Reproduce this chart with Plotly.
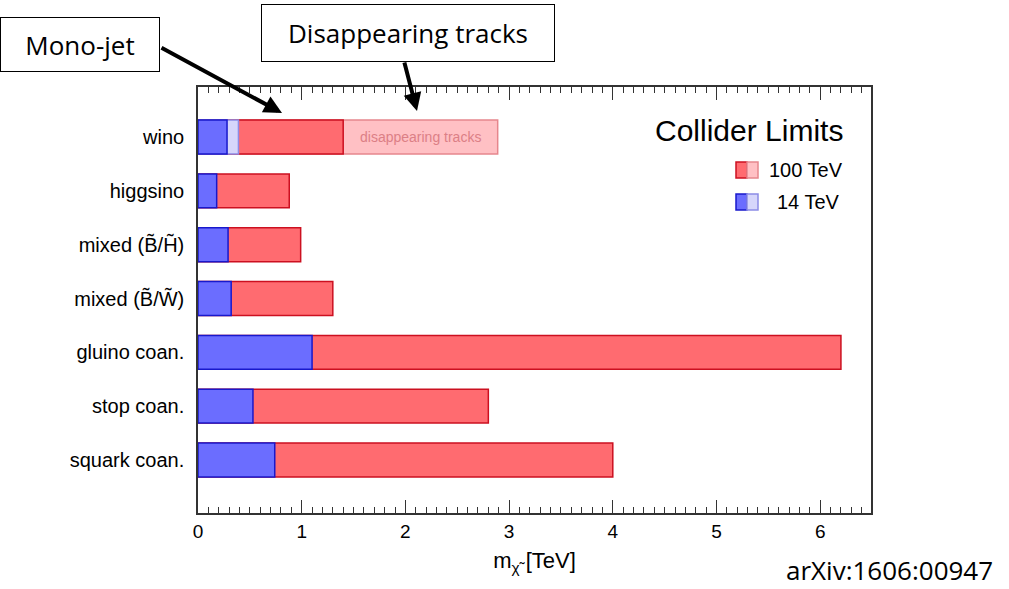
import plotly.graph_objects as go

categories = ["wino", "higgsino", "mixed (B\u0303/H\u0303)", "mixed (B\u0303/W\u0303)",
              "gluino coan.", "stop coan.", "squark coan."]
limit_100tev = [1.40, 0.88, 0.99, 1.30, 6.20, 2.80, 4.00]
limit_14tev = [0.28, 0.18, 0.29, 0.32, 1.10, 0.53, 0.74]
# wino: weaker (disappearing-track) reach, lighter shading
wino_dt_100tev = [2.89]
wino_dt_14tev = [0.39]

W, H = 1009, 589
L, R, T, B = 198, 871, 87, 513

RED_F, RED_L = "#ff6b70", "#cc1020"
LRED_F, LRED_L = "#ffc0c4", "#e6868d"
BLUE_F, BLUE_L = "#6b6dff", "#1818cc"
LBLUE_F, LBLUE_L = "#d6d6fb", "#8c8ce6"
FONT = "Liberation Sans, Arial, sans-serif"
CAL = "Open Sans, sans-serif"
BW = 0.63

fig = go.Figure()
fig.add_bar(y=categories[:1], x=wino_dt_100tev, orientation="h", width=BW,
            marker=dict(color=LRED_F, line=dict(color=LRED_L, width=1.5)), showlegend=False)
fig.add_bar(y=categories, x=limit_100tev, orientation="h", width=BW,
            marker=dict(color=RED_F, line=dict(color=RED_L, width=1.5)), showlegend=False)
fig.add_bar(y=categories[:1], x=wino_dt_14tev, orientation="h", width=BW,
            marker=dict(color=LBLUE_F, line=dict(color=LBLUE_L, width=1.5)), showlegend=False)
fig.add_bar(y=categories, x=limit_14tev, orientation="h", width=BW,
            marker=dict(color=BLUE_F, line=dict(color=BLUE_L, width=1.5)), showlegend=False)
fig.add_scatter(x=[0, 6.49], y=categories[:2], xaxis="x2", mode="markers",
                marker=dict(opacity=0), hoverinfo="skip", showlegend=False)

def px(x):
    return (x - L) / (R - L)

def py(y):
    return (B - y) / (B - T)

anns = []
anns.append(dict(x=(limit_100tev[0] + wino_dt_100tev[0]) / 2, y=categories[0],
                 xref="x", yref="y", text="disappearing tracks", showarrow=False,
                 font=dict(family=FONT, size=14, color="#dc7f86")))
anns.append(dict(x=px(845), y=py(130), xref="paper", yref="paper", text="Collider Limits",
                 showarrow=False, xanchor="right", yanchor="middle",
                 font=dict(family=FONT, size=30, color="#000")))
anns.append(dict(x=px(767), y=py(170), xref="paper", yref="paper", text="100 TeV",
                 showarrow=False, xanchor="left", yanchor="middle",
                 font=dict(family=FONT, size=20, color="#000")))
anns.append(dict(x=px(775), y=py(202), xref="paper", yref="paper", text="14 TeV",
                 showarrow=False, xanchor="left", yanchor="middle",
                 font=dict(family=FONT, size=20, color="#000")))
anns.append(dict(x=px(80), y=py(44.5), xref="paper", yref="paper", text="Mono-jet",
                 showarrow=False, xanchor="center", yanchor="middle",
                 width=158, height=53, borderpad=0,
                 font=dict(family=CAL, size=26, color="#000"),
                 bordercolor="#000", borderwidth=1, bgcolor="white"))
anns.append(dict(x=px(408), y=py(33), xref="paper", yref="paper", text="Disappearing tracks",
                 showarrow=False, xanchor="center", yanchor="middle",
                 width=292, height=56, borderpad=0,
                 font=dict(family=CAL, size=26, color="#000"),
                 bordercolor="#000", borderwidth=1, bgcolor="white"))
anns.append(dict(x=px(890), y=py(570), xref="paper", yref="paper", text="arXiv:1606:00947",
                 showarrow=False, xanchor="center", yanchor="middle",
                 font=dict(family=CAL, size=26, color="#000")))
anns.append(dict(x=px(282), y=py(113), xref="paper", yref="paper", text="",
                 showarrow=True, ax=-122, ay=-66, arrowhead=2, arrowsize=0.9,
                 arrowwidth=4, arrowcolor="#000"))
anns.append(dict(x=px(417), y=py(111), xref="paper", yref="paper", text="",
                 showarrow=True, ax=-13, ay=-50, arrowhead=2, arrowsize=0.9,
                 arrowwidth=4, arrowcolor="#000"))

shapes = []
def swatch(x0, yc, fill, line):
    shapes.append(dict(type="rect", xref="paper", yref="paper",
                       x0=px(x0), x1=px(x0 + 11), y0=py(yc + 8), y1=py(yc - 8),
                       fillcolor=fill, line=dict(color=line, width=1.5)))
swatch(736, 170, RED_F, RED_L)
swatch(747, 170, LRED_F, LRED_L)
swatch(736, 202, BLUE_F, BLUE_L)
swatch(747, 202, LBLUE_F, LBLUE_L)

def tick_common():
    return dict(range=[0, 6.49], tickmode="linear", tick0=0, dtick=1,
                ticks="inside", ticklen=13, tickcolor="#333", tickwidth=1.4,
                showgrid=False, zeroline=False,
                minor=dict(dtick=0.1, tick0=0, ticks="inside", ticklen=6,
                           tickcolor="#333", tickwidth=1.2, showgrid=False))

fig.update_layout(
    width=W, height=H, barmode="overlay",
    margin=dict(l=L, r=W - R, t=T, b=H - B, pad=0),
    plot_bgcolor="white", paper_bgcolor="white",
    annotations=anns, shapes=shapes,
    xaxis=dict(**tick_common(), showline=True, linecolor="#333", linewidth=1.5, mirror=True,
               tickfont=dict(family=FONT, size=19, color="#000"),
               title=dict(text="m<sub>\u03c7\u0303</sub>&nbsp;[TeV]", standoff=12,
                          font=dict(family=FONT, size=22, color="#000"))),
    xaxis2=dict(**tick_common(), overlaying="x", side="top", showticklabels=False,
                showline=False, anchor="y"),
    yaxis=dict(categoryorder="array", categoryarray=categories, range=[6.985, -0.93],
               showline=True, linecolor="#333", linewidth=1.5, mirror=True,
               ticks="", showgrid=False, zeroline=False, ticklabelstandoff=8,
               tickfont=dict(family=FONT, size=20, color="#000")),
)

fig.write_html("out.html")
